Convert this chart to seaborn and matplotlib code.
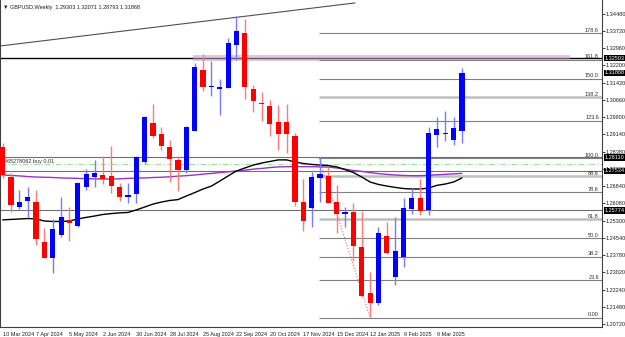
import matplotlib
matplotlib.use("Agg")
import matplotlib.pyplot as plt
import pandas as pd
import seaborn as sns
from matplotlib.patches import Rectangle

sns.set_style("white")
plt.rcParams['font.family'] = ['Liberation Sans', 'DejaVu Sans']

# -------------------------------
# DATA (weekly candles)
# -------------------------------
opens = [1.2858, 1.2725, 1.2592, 1.2619, 1.2614, 1.2437, 1.2366, 1.2468, 1.2535, 1.2508,
         1.2681, 1.2725, 1.2734, 1.2730, 1.2681, 1.2637, 1.2650, 1.2792, 1.2965, 1.2916,
         1.2858, 1.2801, 1.2756, 1.2929, 1.3200, 1.3124, 1.3115, 1.3120, 1.3311, 1.3364,
         1.3115, 1.3053, 1.3040, 1.2969, 1.2969, 1.2907, 1.2614, 1.2588, 1.2721, 1.2730,
         1.2614, 1.2561, 1.2570, 1.2415, 1.2211, 1.2166, 1.2464, 1.2282, 1.2370, 1.2583,
         1.2632, 1.2579, 1.2911, 1.2916, 1.2889, 1.2930]
closes = [1.2734, 1.2601, 1.2614, 1.2637, 1.2450, 1.2366, 1.2495, 1.2548, 1.2521, 1.2699,
          1.2739, 1.2743, 1.2716, 1.2685, 1.2637, 1.2645, 1.2814, 1.2991, 1.2907, 1.2863,
          1.2805, 1.2756, 1.2947, 1.3213, 1.3124, 1.3129, 1.3124, 1.3319, 1.3373, 1.3124,
          1.3062, 1.3049, 1.2960, 1.2916, 1.2916, 1.2614, 1.2530, 1.2725, 1.2739, 1.2610,
          1.2561, 1.2570, 1.2419, 1.2197, 1.2166, 1.2477, 1.2388, 1.2397, 1.2588, 1.2632,
          1.2574, 1.2920, 1.2938, 1.2920, 1.2943, 1.3187]
highs = [1.2876, 1.2743, 1.2668, 1.2681, 1.2668, 1.2499, 1.2539, 1.2637, 1.2592, 1.2703,
         1.2761, 1.2801, 1.2818, 1.2863, 1.2699, 1.2699, 1.2818, 1.2995, 1.3049, 1.2947,
         1.2889, 1.2818, 1.2950, 1.3231, 1.3271, 1.3240, 1.3160, 1.3342, 1.3439, 1.3426,
         1.3133, 1.3102, 1.3067, 1.3044, 1.3049, 1.2920, 1.2716, 1.2747, 1.2814, 1.2770,
         1.2690, 1.2592, 1.2610, 1.2574, 1.2304, 1.2503, 1.2526, 1.2548, 1.2632, 1.2676,
         1.2716, 1.2947, 1.2991, 1.3018, 1.2991, 1.3207]
lows = [1.2721, 1.2570, 1.2583, 1.2548, 1.2424, 1.2366, 1.2299, 1.2459, 1.2441, 1.2503,
        1.2668, 1.2681, 1.2694, 1.2654, 1.2619, 1.2610, 1.2610, 1.2783, 1.2898, 1.2845,
        1.2703, 1.2663, 1.2743, 1.2927, 1.3107, 1.3084, 1.3000, 1.3118, 1.3244, 1.3071,
        1.3013, 1.2974, 1.2907, 1.2845, 1.2832, 1.2597, 1.2486, 1.2503, 1.2614, 1.2610,
        1.2477, 1.2503, 1.2353, 1.2193, 1.2104, 1.2158, 1.2384, 1.2246, 1.2326, 1.2561,
        1.2557, 1.2557, 1.2858, 1.2885, 1.2867, 1.2876]

# moving averages (black = fast, purple = slow)
ma_black = [1.2535, 1.2537, 1.2539, 1.2541, 1.2539, 1.2530, 1.2528, 1.2528, 1.2530, 1.2539,
            1.2546, 1.2552, 1.2559, 1.2563, 1.2566, 1.2568, 1.2579, 1.2592, 1.2605, 1.2614,
            1.2621, 1.2625, 1.2641, 1.2656, 1.2672, 1.2685, 1.2707, 1.2730, 1.2752, 1.2765,
            1.2778, 1.2787, 1.2794, 1.2801, 1.2801, 1.2792, 1.2785, 1.2781, 1.2778, 1.2776,
            1.2770, 1.2758, 1.2745, 1.2725, 1.2703, 1.2692, 1.2685, 1.2679, 1.2674, 1.2672,
            1.2672, 1.2676, 1.2688, 1.2694, 1.2703, 1.2721]
ma_purple = [1.2734, 1.2732, 1.2730, 1.2727, 1.2725, 1.2724, 1.2723, 1.2721, 1.2720, 1.2719,
             1.2718, 1.2717, 1.2716, 1.2716, 1.2717, 1.2719, 1.2720, 1.2721, 1.2723, 1.2724,
             1.2726, 1.2729, 1.2731, 1.2734, 1.2738, 1.2741, 1.2745, 1.2748, 1.2752, 1.2755,
             1.2760, 1.2763, 1.2767, 1.2770, 1.2771, 1.2771, 1.2771, 1.2771, 1.2770, 1.2769,
             1.2765, 1.2760, 1.2754, 1.2750, 1.2745, 1.2740, 1.2737, 1.2734, 1.2732, 1.2731,
             1.2731, 1.2733, 1.2735, 1.2737, 1.2739, 1.2741]

date_labels = ["10 Mar 2024", "7 Apr 2024", "5 May 2024", "2 Jun 2024", "30 Jun 2024",
               "28 Jul 2024", "25 Aug 2024", "22 Sep 2024", "20 Oct 2024", "17 Nov 2024",
               "15 Dec 2024", "12 Jan 2025", "9 Feb 2025", "9 Mar 2025"]

price_ticks = [1.34480, 1.33720, 1.32960, 1.32200, 1.31420, 1.30660, 1.29900, 1.29140,
               1.28380, 1.27600, 1.26840, 1.26080, 1.25300, 1.24540, 1.23780, 1.23020,
               1.22240, 1.21480, 1.20720]

fib_levels = [0.0, 23.6, 38.2, 50.0, 61.8, 78.6, 88.6, 100.0, 123.6, 138.2, 150.0, 161.8, 178.6]
fib_low, fib_high = 1.2101, 1.2808

hlines = [1.3252, 1.2813, 1.2753, 1.2577]
order_price = 1.2781
price_boxes = [("1.32503", 1.3252), ("1.31868", 1.31868), ("1.28110", 1.2811),
               ("1.27534", 1.2753), ("1.25774", 1.2577)]
title = "\u25BC GBPUSD,Weekly  1.29303 1.32071 1.28793 1.31868"

FS = 4.0

# -------------------------------
# FIGURE
# -------------------------------
df = pd.DataFrame({"o": opens, "h": highs, "l": lows, "c": closes,
                   "ma1": ma_black, "ma2": ma_purple})
df["idx"] = range(len(df))
up = df["c"] >= df["o"]

fig = plt.figure(figsize=(6.25, 3.37), dpi=100)
ax = fig.add_axes([0.0, 10 / 337, 602 / 625, 327 / 337])

# horizontal lines
for i, p in enumerate(hlines):
    ax.axhline(p, color="black" if i == 0 else "#707070", lw=1.0 if i == 0 else 0.8, zorder=1)
ax.axhline(order_price, color="#9be09b", lw=0.8, ls=(0, (5, 2, 1, 2)), zorder=1)
ax.text(0.2, order_price + 0.0004, "#65278062 buy 0.01", fontsize=FS, color="#303030",
        va="bottom", ha="left")

# pink zone
ax.add_patch(Rectangle((22.8, 1.3238), 45.1, 0.0027, facecolor="#c8a0c8", alpha=0.55,
                       edgecolor="none", zorder=1))

# fibonacci
fib_start = 37.9
for lvl in fib_levels:
    p = fib_low + lvl / 100 * (fib_high - fib_low)
    light = lvl in (138.2, 88.6, 61.8)
    ax.hlines(p, fib_start, 72, color="#c0c0c0" if light else "#808080",
              lw=1.8 if light else 0.8, zorder=1)
    ax.text(71.4, p + 0.0002, "0.00" if lvl == 0 else f"{lvl:.1f}", fontsize=FS,
            color="#303030", ha="right", va="bottom")
ax.plot([fib_start, 44.0], [fib_high, fib_low], color="#ff6060", lw=0.8, ls=":", zorder=2)

# trendline
ax.plot([-0.32, 42.2], [1.3306, 1.3497], color="#505050", lw=0.8, zorder=2)

# moving averages
sns.lineplot(data=df, x="idx", y="ma2", color="#9932cc", lw=1.0, ax=ax, zorder=3)
sns.lineplot(data=df, x="idx", y="ma1", color="black", lw=1.0, ax=ax, zorder=3)

# candles
wick_col = ["#7a7aff" if u else "#ff7a7a" for u in up]
ax.vlines(df["idx"], df["l"], df["h"], colors=wick_col, lw=1.0, zorder=4)
body_lo = df[["o", "c"]].min(axis=1)
body_h = (df["c"] - df["o"]).abs().clip(lower=0.0005)
ax.bar(df["idx"], body_h, bottom=body_lo, width=0.62,
       color=["#0000ff" if u else "#ff0000" for u in up], linewidth=0, zorder=5)

# axes
ax.set_xlim(-0.32, 71.77)
ax.set_ylim(1.2060, 1.3510)
ax.yaxis.tick_right()
ax.set_yticks(price_ticks)
ax.set_yticklabels([f"{p:.5f}" for p in price_ticks])
ax.set_xticks(range(0, 56, 4))
ax.set_xticklabels(date_labels, ha="left")
ax.tick_params(axis="both", labelsize=FS, length=2.0, width=0.6, colors="#202020", pad=0.6)
ax.tick_params(axis="x", pad=1.5)
ax.set_xlabel("")
ax.set_ylabel("")
for s in ["left", "right", "bottom"]:
    ax.spines[s].set_color("#404040")
    ax.spines[s].set_linewidth(0.8)
ax.spines["top"].set_visible(False)

for txt, p in price_boxes:
    ax.text(1.004, p, txt, transform=ax.get_yaxis_transform(), fontsize=FS, color="white",
            va="center", ha="left", clip_on=False, zorder=10,
            bbox=dict(boxstyle="square,pad=0.12", fc="black", ec="none"))

ax.text(0.005, 0.985, title, transform=ax.transAxes, fontsize=FS, color="#202020",
        va="top", ha="left")

fig.savefig("out.png", dpi=100)
